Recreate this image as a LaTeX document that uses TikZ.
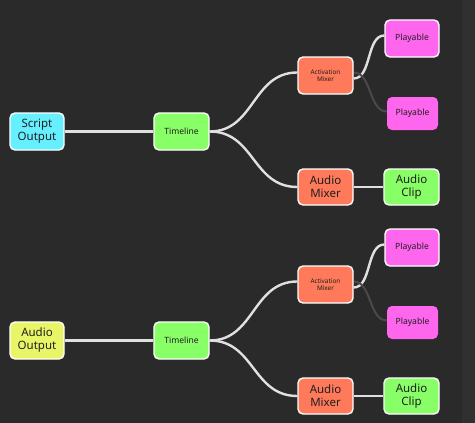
\documentclass[tikz,border=0pt]{standalone}
\usepackage{fontspec}
\setmainfont{Noto Sans}
\pgfdeclarelayer{bg}
\pgfsetlayers{bg,main}
\begin{document}
\begin{tikzpicture}[x=1pt,y=-1pt,
  box/.style={rectangle, rounded corners=5pt, draw=white, line width=1.4pt, minimum width=54pt, minimum height=37pt, inner sep=1pt, text=black!88, align=center},
  inact/.style={rectangle, rounded corners=5pt, minimum width=51pt, minimum height=33pt, inner sep=1pt, text=black!88, align=center},
  big/.style={font=\fontsize{11.5}{13}\selectfont},
  mid/.style={font=\fontsize{8.6}{10}\selectfont},
  small/.style={font=\fontsize{6.4}{7.5}\selectfont},
  wire/.style={draw=white!88!black, line width=2.4pt},
  dimwire/.style={draw=white!15!bgc, line width=2pt}]
\definecolor{bgc}{HTML}{2A2A2A}
\definecolor{strip}{HTML}{303030}
\definecolor{cyanc}{HTML}{66F0FF}
\definecolor{greenc}{HTML}{88FF66}
\definecolor{salmon}{HTML}{FF7A5A}
\definecolor{magc}{HTML}{FF66EE}
\definecolor{yelc}{HTML}{E8F566}
\begin{pgfonlayer}{bg}
\fill[bgc] (0,0) rectangle (475,423);
\fill[strip] (462,0) rectangle (475,423);
\end{pgfonlayer}
\useasboundingbox (0,0) rectangle (475,423);

\foreach \off/\srcname/\srccol/\sfx in {0/Script/cyanc/a, 209/Audio/yelc/b}{
  \node[box, big, fill=\srccol] (src\sfx) at (37,131.5+\off) {\srcname\\Output};
  \node[box, mid, fill=greenc, minimum width=55pt] (tl\sfx) at (181.5,131.5+\off) {Timeline};
  \node[box, small, fill=salmon, minimum width=55pt] (act\sfx) at (325.5,75.5+\off) {Activation\\Mixer};
  \node[box, mid, fill=magc] (pa\sfx) at (412,38.5+\off) {Playable};
  \node[inact, mid, fill=magc] (pb\sfx) at (412.5,113.5+\off) {Playable};
  \node[box, big, fill=salmon, minimum width=55pt, minimum height=36pt] (aum\sfx) at (325.5,187+\off) {Audio\\Mixer};
  \node[box, big, fill=greenc, minimum width=55pt, minimum height=36pt] (ac\sfx) at (411.5,187+\off) {Audio\\Clip};
}
\begin{pgfonlayer}{bg}
\foreach \sfx in {a,b}{
  \draw[wire] (src\sfx.east) -- (tl\sfx.west);
  \draw[wire] (tl\sfx.east) .. controls +(45,0) and +(-45,0) .. ([yshift=3pt]act\sfx.west);
  \draw[wire] (tl\sfx.east) .. controls +(45,0) and +(-45,0) .. (aum\sfx.west);
  \draw[wire] ([yshift=-3pt]act\sfx.east) .. controls +(18,0) and +(-18,0) .. ([yshift=3pt]pa\sfx.west);
  \draw[dimwire] ([yshift=3pt]act\sfx.east) .. controls +(18,0) and +(-18,0) .. ([yshift=2pt]pb\sfx.west);
  \draw[wire] (aum\sfx.east) -- (ac\sfx.west);
}
\end{pgfonlayer}
\end{tikzpicture}
\end{document}
